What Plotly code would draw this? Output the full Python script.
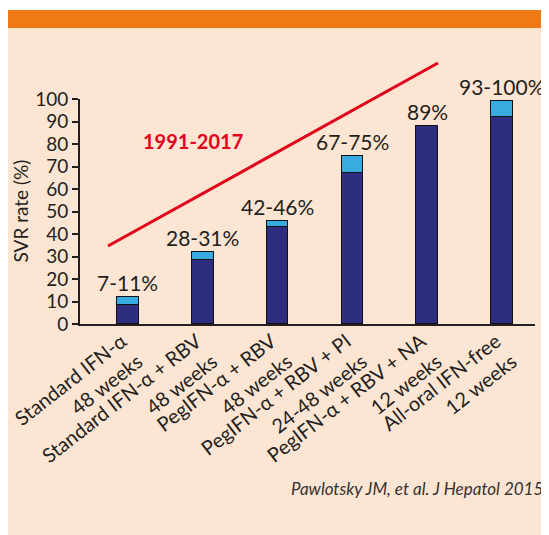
import plotly.graph_objects as go

categories = [
    "Standard IFN-α<br>48 weeks",
    "Standard IFN-α + RBV<br>48 weeks",
    "PegIFN-α + RBV<br>48 weeks",
    "PegIFN-α + RBV + PI<br>24-48 weeks",
    "PegIFN-α + RBV + NA<br>12 weeks",
    "All-oral IFN-free<br>12 weeks",
]
svr_low = [8.5, 28.5, 43, 67, 88, 92]
svr_high = [12, 32, 46, 74.5, 88, 99]
range_labels = ["7-11%", "28-31%", "42-46%", "67-75%", "89%", "93-100%"]
y_ticks = [0, 10, 20, 30, 40, 50, 60, 70, 80, 90, 100]

W, H = 541, 527
L, R, T, B = 72, 527, 91, 316  # plot area in figure pixels


def px(x):
    return (x - L) / (R - L)


def py(y):
    return (B - y) / (B - T)


FONT = "Lato, 'Open Sans', sans-serif"
INK = "#231f20"
PEACH = "#fde5d3"
ORANGE = "#ef7914"
RED = "#e2001a"

fig = go.Figure()
fig.add_trace(go.Bar(
    x=categories, y=svr_low, marker=dict(color="#2e2d80", line=dict(color="#111", width=1.5)),
    width=0.29, showlegend=False, hoverinfo="skip",
))
fig.add_trace(go.Bar(
    x=categories, y=[h - l for h, l in zip(svr_high, svr_low)],
    marker=dict(color="#3aabe0", line=dict(color="#111", width=1.5)),
    width=0.29, showlegend=False, hoverinfo="skip",
))

annotations = []
for c, h, lab in zip(categories, svr_high, range_labels):
    annotations.append(dict(x=c, y=h, xref="x", yref="y", text=lab, showarrow=False,
                            xanchor="center", yanchor="bottom", yshift=0,
                            font=dict(size=21, color=INK, family=FONT)))

annotations.append(dict(x=px(185), y=py(133), xref="paper", yref="paper", text="<b>1991-2017</b>",
                        xanchor="center", yanchor="middle",
                        showarrow=False, font=dict(size=20, color=RED, family=FONT)))
annotations.append(dict(x=px(12), y=0.5, xref="paper", yref="paper", text="SVR rate (%)",
                        xanchor="center", yanchor="middle",
                        textangle=-90, showarrow=False, font=dict(size=19, color=INK, family=FONT)))
annotations.append(dict(x=px(537), y=py(480), xref="paper", yref="paper", xanchor="right",
                        yanchor="middle",
                        text="<i>Pawlotsky JM, et al. J Hepatol 2015</i>", showarrow=False,
                        font=dict(size=17, color="#333", family=FONT)))

shapes = [
    dict(type="rect", xref="paper", yref="paper", x0=px(0), x1=px(W), y0=py(0), y1=py(2),
         fillcolor="white", line=dict(width=0), layer="below"),
    dict(type="rect", xref="paper", yref="paper", x0=px(0), x1=px(W), y0=py(2), y1=py(20),
         fillcolor=ORANGE, line=dict(width=0), layer="below"),
    dict(type="line", xref="paper", yref="paper", x0=px(100), y0=py(238), x1=px(430), y1=py(55),
         line=dict(color=RED, width=3)),
]

fig.update_layout(
    width=W, height=H,
    margin=dict(l=L, r=W - R, t=T, b=H - B, autoexpand=False),
    paper_bgcolor=PEACH, plot_bgcolor=PEACH,
    barmode="stack", bargap=0,
    font=dict(family=FONT, color=INK),
    annotations=annotations, shapes=shapes,
    xaxis=dict(type="category", range=[-0.64, 5.44], showgrid=False, zeroline=False,
               showline=True, linecolor=INK, linewidth=2, ticks="", tickangle=-38,
               ticklabelshift=-6, ticklabelstandoff=-4,
               tickfont=dict(size=20, color=INK, family=FONT), fixedrange=True),
    yaxis=dict(range=[0, 100], tickvals=y_ticks, showgrid=False, zeroline=False,
               showline=True, linecolor=INK, linewidth=2, ticks="outside", ticklen=6,
               tickwidth=2, tickcolor=INK, tickfont=dict(size=19, color=INK, family=FONT),
               ticklabelstandoff=0, fixedrange=True),
)

fig.write_html(
    "out.html",
    post_script="document.documentElement.style.overflow='hidden';"
                "document.body.style.overflow='hidden';",
)
